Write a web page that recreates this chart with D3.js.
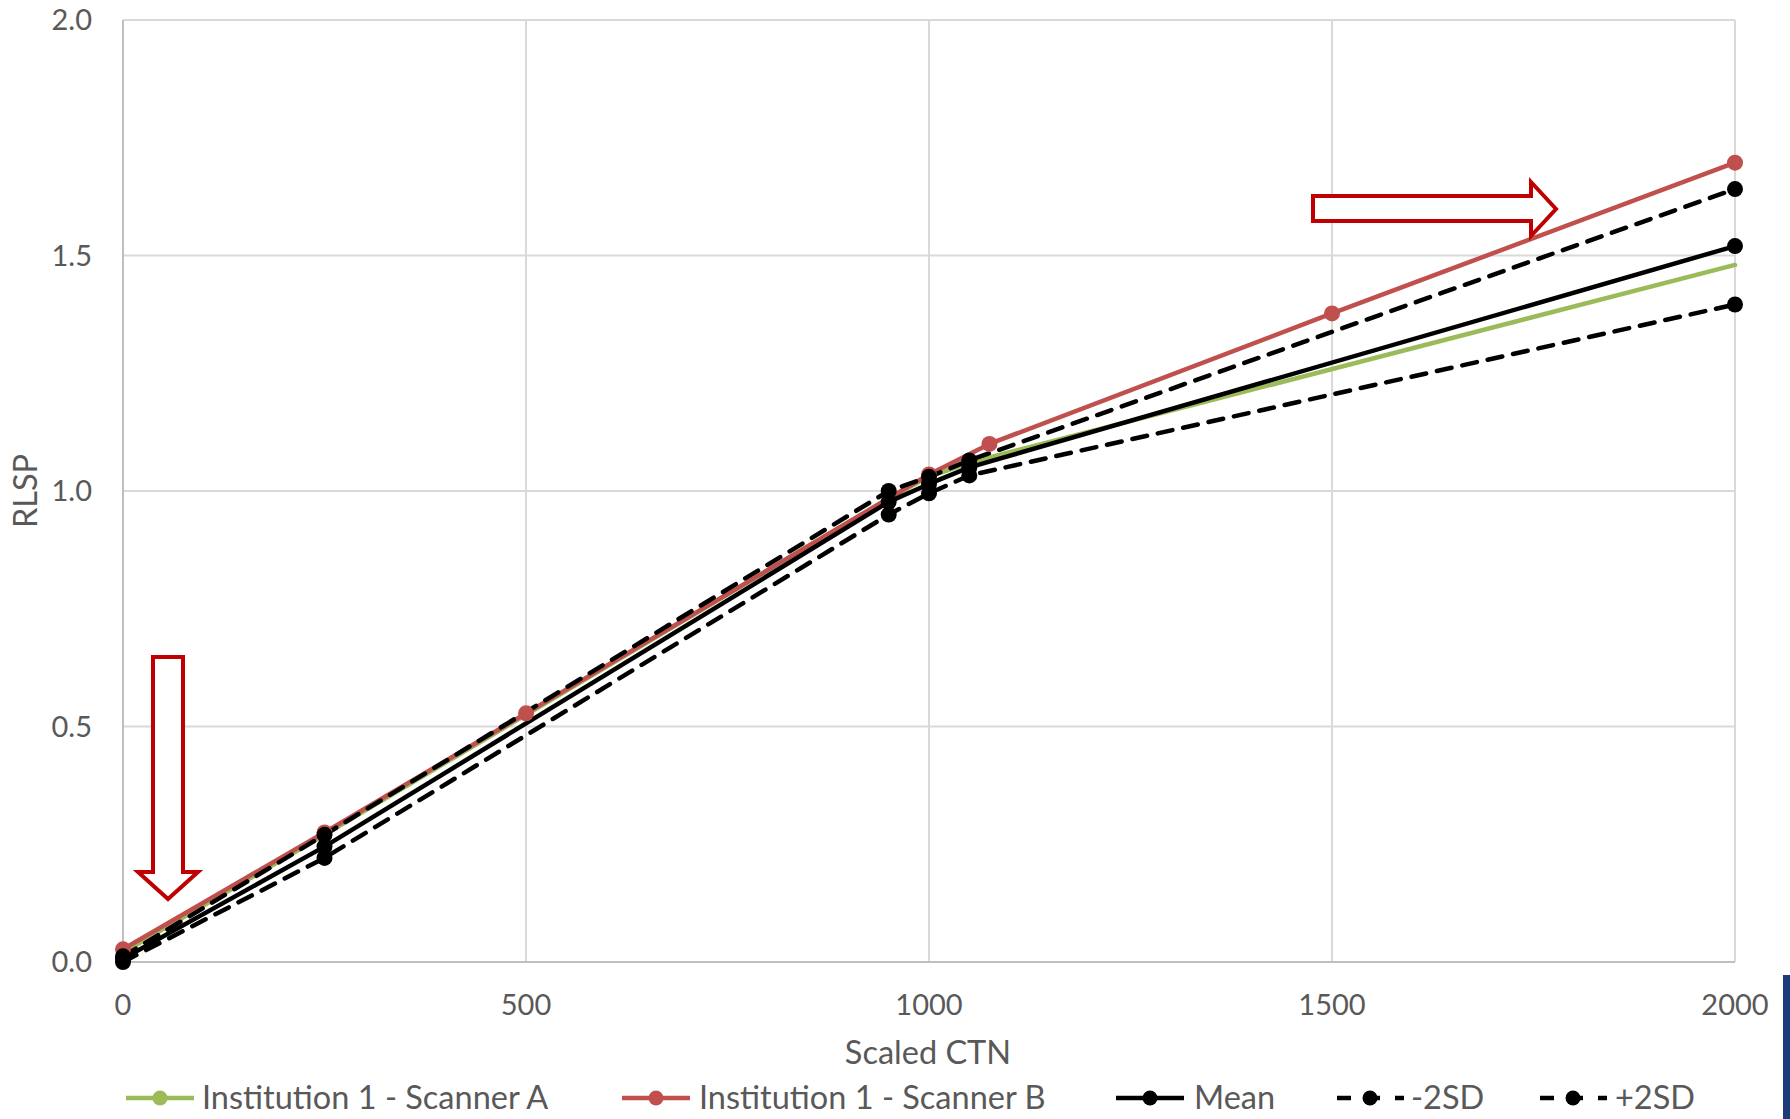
<!DOCTYPE html>
<html><head><meta charset="utf-8">
<script src="https://cdn.jsdelivr.net/npm/d3@7"></script>
<style>body{margin:0;background:#fff;}svg{display:block;}text{font-family:Lato,"Open Sans",sans-serif;fill:#595959;}</style>
</head><body>
<script>
const xTicks = [0, 500, 1000, 1500, 2000];
const yTicks = [0, 0.5, 1.0, 1.5, 2.0];
const scannerA = [[0,0.02],[250,0.27],[500,0.525],[950,0.985],[1000,1.03],[1050,1.06],[2000,1.48]];
const scannerB = [[0,0.027],[250,0.275],[500,0.528],[1000,1.035],[1075,1.10],[1500,1.377],[2000,1.697]];
const meanS = [[0,0.007],[250,0.245],[950,0.977],[1000,1.015],[1050,1.05],[2000,1.52]];
const minus2SD = [[0,0.0],[250,0.221],[950,0.950],[1000,0.995],[1050,1.033],[2000,1.396]];
const plus2SD = [[0,0.012],[250,0.27],[950,1.0],[1000,1.03],[1050,1.065],[2000,1.641]];
const legendLabels = ["Institution 1 - Scanner A","Institution 1 - Scanner B","Mean","-2SD","+2SD"];

const W=1790,H=1119;
const svg=d3.select("body").append("svg").attr("width",W).attr("height",H);
const x=d3.scaleLinear().domain([0,2000]).range([123,1735]);
const y=d3.scaleLinear().domain([0,2]).range([962,20]);

svg.append("g").selectAll("line").data(yTicks.slice(1)).join("line")
  .attr("x1",x(0)).attr("x2",x(2000)).attr("y1",d=>y(d)).attr("y2",d=>y(d))
  .attr("stroke","#d9d9d9").attr("stroke-width",2);
svg.append("g").selectAll("line").data(xTicks.slice(1)).join("line")
  .attr("y1",y(0)).attr("y2",y(2)).attr("x1",d=>x(d)).attr("x2",d=>x(d))
  .attr("stroke","#d9d9d9").attr("stroke-width",2);
svg.append("line").attr("x1",x(0)).attr("x2",x(0)).attr("y1",y(0)).attr("y2",y(2)).attr("stroke","#bfbfbf").attr("stroke-width",2);
svg.append("line").attr("x1",x(0)).attr("x2",x(2000)).attr("y1",y(0)).attr("y2",y(0)).attr("stroke","#bfbfbf").attr("stroke-width",2);

svg.append("g").selectAll("text").data(yTicks).join("text")
  .attr("x",92).attr("y",d=>y(d)).attr("dy","0.35em").attr("text-anchor","end")
  .attr("font-size",29).text(d=>d3.format(".1f")(d));
svg.append("g").selectAll("text").data(xTicks).join("text")
  .attr("x",d=>x(d)).attr("y",1005).attr("dy","0.35em").attr("text-anchor","middle")
  .attr("font-size",29).text(d=>d);
svg.append("text").attr("x",928).attr("y",1053).attr("dy","0.35em").attr("text-anchor","middle").attr("font-size",32.5).text("Scaled CTN");
svg.append("text").attr("transform","translate(26,491) rotate(-90)").attr("dy","0.35em").attr("text-anchor","middle").attr("font-size",32.5).text("RLSP");

const line=d3.line().x(d=>x(d[0])).y(d=>y(d[1]));
const series=[
  {data:scannerA,color:"#9bbb59",dash:null,markers:false},
  {data:scannerB,color:"#c0504d",dash:null,markers:true},
  {data:meanS,color:"#000",dash:null,markers:true},
  {data:minus2SD,color:"#000",dash:"15,11",markers:true},
  {data:plus2SD,color:"#000",dash:"15,11",markers:true}
];
series.forEach(s=>{
  svg.append("path").attr("d",line(s.data)).attr("fill","none").attr("stroke",s.color)
    .attr("stroke-width",4.5).attr("stroke-linejoin","round").attr("stroke-linecap","round")
    .attr("stroke-dasharray",s.dash);
});
series.forEach(s=>{
  if(s.markers) svg.append("g").selectAll("circle").data(s.data).join("circle")
    .attr("cx",d=>x(d[0])).attr("cy",d=>y(d[1])).attr("r",8).attr("fill",s.color);
});

svg.append("path").attr("d","M153,657 L183,657 L183,872 L198,872 L168,899 L138,872 L153,872 Z")
  .attr("fill","#fff").attr("stroke","#c00000").attr("stroke-width",4);
svg.append("path").attr("d","M1313,196 L1531,196 L1531,182 L1556,209 L1531,236 L1531,221 L1313,221 Z")
  .attr("fill","#fff").attr("stroke","#c00000").attr("stroke-width",4);

const leg=[{lx:126,tx:202},{lx:622,tx:699},{lx:1116,tx:1194},{lx:1336,tx:1411},{lx:1539,tx:1615}];
const ly=1098;
series.forEach((s,i)=>{
  const g=svg.append("g");
  g.append("line").attr("x1",leg[i].lx).attr("x2",leg[i].lx+68).attr("y1",ly).attr("y2",ly)
    .attr("stroke",s.color).attr("stroke-width",4.5).attr("stroke-dasharray",s.dash?"14,15":null).attr("stroke-dashoffset",s.dash?-1:null);
  g.append("circle").attr("cx",leg[i].lx+34).attr("cy",ly).attr("r",7.5).attr("fill",s.color);
  g.append("text").attr("x",leg[i].tx).attr("y",ly).attr("dy","0.35em").attr("font-size",32.5).text(legendLabels[i]);
});
svg.append("rect").attr("x",1783).attr("y",975).attr("width",7).attr("height",144).attr("fill","#1f3a78");
</script>
</body></html>
